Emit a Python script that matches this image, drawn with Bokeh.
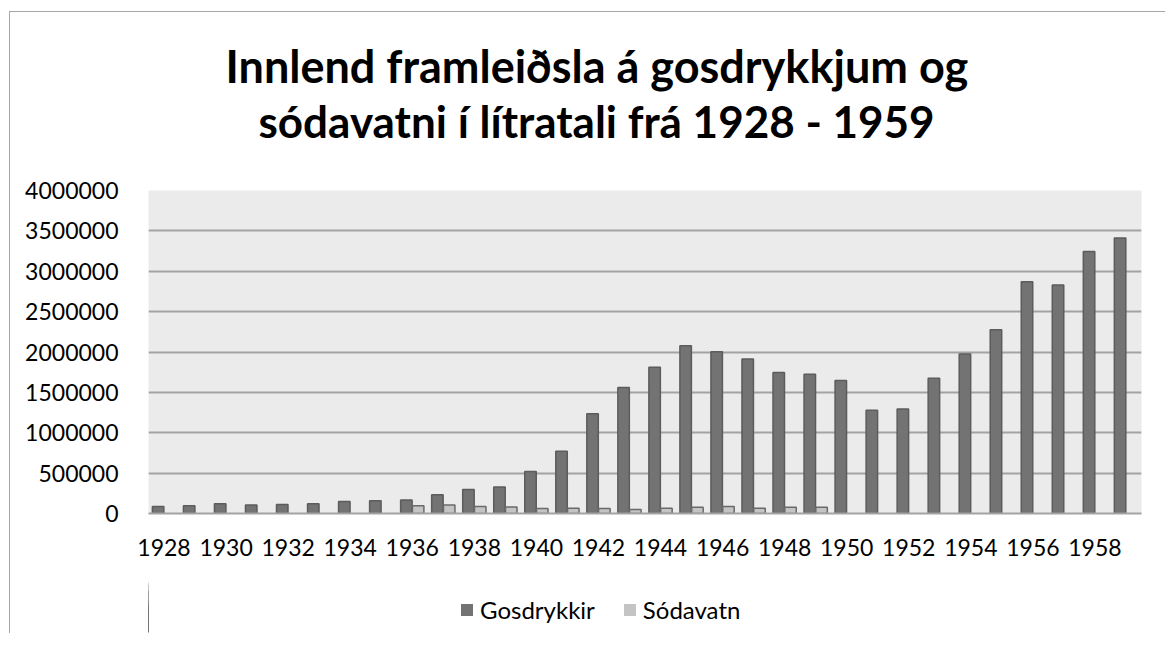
from bokeh.plotting import figure
from bokeh.layouts import column
from bokeh.models import (ColumnDataSource, FixedTicker, BasicTickFormatter, Title,
                          Legend, LegendItem, Range1d)
from bokeh.transform import dodge
from bokeh.embed import file_html
from bokeh.resources import INLINE

# ---- data ----
years = list(range(1928, 1960))
gosdrykkir = [87000, 95000, 120000, 105000, 112000, 120000, 150000, 158000,
              167000, 233000, 296000, 329000, 520000, 770000, 1235000, 1560000,
              1810000, 2077000, 2003000, 1912000, 1745000, 1724000, 1646000, 1278000,
              1295000, 1675000, 1976000, 2277000, 2871000, 2830000, 3246000, 3411000]
sodavatn = [None, None, None, None, None, None, None, None,
            95000, 105000, 87000, 80000, 62000, 66000, 62000, 50000,
            66000, 78000, 86000, 66000, 78000, 78000, None, None,
            None, None, None, None, None, None, None, None]
x_ticks = years[::2]
y_ticks = [0, 500000, 1000000, 1500000, 2000000, 2500000, 3000000, 3500000, 4000000]
title_lines = ["Innlend framleiðsla á gosdrykkjum og",
               "sódavatni í lítratali frá 1928 - 1959"]
series_names = ["Gosdrykkir", "Sódavatn"]

FONT = "Lato"
GRID = "#a3a3a3"
DARK_FILL, DARK_LINE = "#737373", "#5c5c5c"
LIGHT_FILL, LIGHT_LINE = "#c4c4c4", "#6a6a6a"

src_g = ColumnDataSource(dict(year=years, value=gosdrykkir))
sy = [y for y, v in zip(years, sodavatn) if v is not None]
sv = [v for v in sodavatn if v is not None]
src_s = ColumnDataSource(dict(year=sy, value=sv))

W, H = 1155, 561
p = figure(width=W, height=H, output_backend="svg", toolbar_location=None, tools="",
           x_range=Range1d(years[0] - 0.5, years[-1] + 0.5),
           y_range=Range1d(y_ticks[0], y_ticks[-1]),
           min_border_left=138, min_border_right=24, min_border_top=178,
           min_border_bottom=H - 178 - 323)
p.background_fill_color = "#ebebeb"
p.border_fill_color = "white"
p.outline_line_color = None

p.vbar(x=dodge("year", -0.19), top="value", width=0.37, source=src_g,
       fill_color=DARK_FILL, line_color=DARK_LINE, line_width=1.5)
p.vbar(x=dodge("year", 0.19), top="value", width=0.37, source=src_s,
       fill_color=LIGHT_FILL, line_color=LIGHT_LINE, line_width=1.5)

# axes
p.xaxis.ticker = FixedTicker(ticks=x_ticks)
p.xaxis.formatter = BasicTickFormatter(use_scientific=False)
p.xaxis.axis_line_color = GRID
p.xaxis.axis_line_width = 2
p.xaxis.major_tick_line_color = None
p.xaxis.minor_tick_line_color = None
p.xaxis.major_label_text_font = FONT
p.xaxis.major_label_text_font_size = "23px"
p.xaxis.major_label_text_color = "black"
p.xaxis.major_label_standoff = 19

p.yaxis.ticker = FixedTicker(ticks=y_ticks)
p.yaxis.formatter = BasicTickFormatter(use_scientific=False)
p.yaxis.axis_line_color = None
p.yaxis.major_tick_line_color = None
p.yaxis.minor_tick_line_color = None
p.yaxis.major_label_text_font = FONT
p.yaxis.major_label_text_font_size = "23px"
p.yaxis.major_label_text_color = "black"
p.yaxis.major_label_standoff = 24

p.xgrid.grid_line_color = None
p.ygrid.ticker = FixedTicker(ticks=y_ticks)
p.ygrid.grid_line_color = GRID
p.ygrid.grid_line_width = 2

# titles: spacer (innermost), line 2, line 1 (outermost)
p.add_layout(Title(text=" ", standoff=31, text_font_size="10px"), "above")
p.add_layout(Title(text=title_lines[1], align="left", offset=110, standoff=0,
                   text_font=FONT, text_font_size="44px", text_font_style="bold",
                   text_color="black"), "above")
p.add_layout(Title(text=title_lines[0], align="left", offset=77, standoff=0,
                   text_font=FONT, text_font_size="45px", text_font_style="bold",
                   text_color="black"), "above")

# legend strip below the chart (its renderers reuse the data, kept out of view)
H2 = 60
pl = figure(width=W, height=H2, output_backend="svg", toolbar_location=None, tools="",
            x_range=Range1d(years[-1] + 1, years[-1] + 2),
            y_range=Range1d(y_ticks[0], y_ticks[-1]),
            min_border=0, x_axis_type=None, y_axis_type=None)
pl.grid.visible = False
pl.outline_line_color = None
pl.background_fill_color = "white"
pl.border_fill_color = "white"
lg1 = pl.vbar(x=dodge("year", -0.19), top="value", width=0.37, source=src_g,
              fill_color=DARK_FILL, line_alpha=0)
lg2 = pl.vbar(x=dodge("year", 0.19), top="value", width=0.37, source=src_s,
              fill_color=LIGHT_FILL, line_alpha=0)
legend = Legend(items=[LegendItem(label=series_names[0], renderers=[lg1]),
                       LegendItem(label=series_names[1], renderers=[lg2])],
                orientation="horizontal", location=(311, 9),
                glyph_width=15, glyph_height=15, label_standoff=6, spacing=27,
                padding=0, margin=0, border_line_color=None,
                background_fill_alpha=0,
                label_text_font=FONT, label_text_font_size="24px",
                label_text_color="black")
pl.add_layout(legend, "center")

layout = column(p, pl, spacing=0)
layout.styles = {"margin-left": "9px", "margin-top": "11px",
                 "border-left": "1px solid #a6a6a6", "border-top": "1px solid #a6a6a6"}

open("out.html", "w").write(file_html(layout, INLINE))
